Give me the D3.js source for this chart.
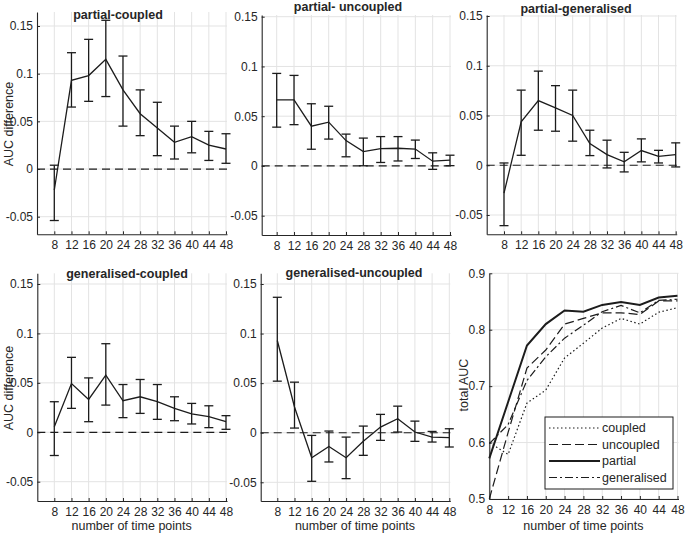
<!DOCTYPE html>
<html><head><meta charset="utf-8">
<script src="https://cdn.jsdelivr.net/npm/d3@7"></script>
<style>
body{margin:0;background:#fff;}
svg{display:block;font-family:Arial,"Liberation Sans",Helvetica,sans-serif;}
</style></head><body>
<svg id="chart" width="685" height="536"></svg>
<script>
// ---------- data ----------
const timePoints = [8, 12, 16, 20, 24, 28, 32, 36, 40, 44, 48];
const xTickValues = [8, 12, 16, 20, 24, 28, 32, 36, 40, 44, 48];
const diffYTicks = [-0.05, 0, 0.05, 0.1, 0.15];
const aucYTicks = [0.5, 0.6, 0.7, 0.8, 0.9];

const panelTitles = ["partial-coupled", "partial- uncoupled", "partial-generalised",
                     "generalised-coupled", "generalised-uncoupled"];

const partialCoupledMean = [-0.022, 0.093, 0.098, 0.115, 0.083, 0.058, 0.043, 0.028, 0.034, 0.025, 0.021];
const partialCoupledLow  = [-0.054, 0.065, 0.071, 0.076, 0.045, 0.035, 0.014, 0.0105, 0.017, 0.009, 0.006];
const partialCoupledHigh = [0.004, 0.122, 0.136, 0.156, 0.1185, 0.083, 0.070, 0.045, 0.050, 0.0395, 0.037];

const partialUncoupledMean = [0.0665, 0.0665, 0.040, 0.044, 0.0255, 0.0145, 0.0175, 0.0178, 0.017, 0.0048, 0.0058];
const partialUncoupledLow  = [0.039, 0.0415, 0.0168, 0.027, 0.0092, 0.0002, 0.0035, 0.005, 0.0075, -0.0034, 0.0003];
const partialUncoupledHigh = [0.093, 0.091, 0.0625, 0.060, 0.032, 0.028, 0.0295, 0.0295, 0.026, 0.0132, 0.0108];

const partialGeneralisedMean = [-0.028, 0.0436, 0.065, 0.0577, 0.050, 0.0218, 0.0107, 0.0034, 0.0148, 0.009, 0.0107];
const partialGeneralisedLow  = [-0.0607, 0.010, 0.0352, 0.0342, 0.0242, 0.0097, -0.0027, -0.0067, 0.0034, 0.0023, -0.0017];
const partialGeneralisedHigh = [0.0023, 0.0755, 0.0946, 0.080, 0.0755, 0.0352, 0.0252, 0.013, 0.0265, 0.015, 0.0225];

const generalisedCoupledMean = [0.0057, 0.0493, 0.0332, 0.0577, 0.0319, 0.0359, 0.0309, 0.0242, 0.0185, 0.0158, 0.0107];
const generalisedCoupledLow  = [-0.0235, 0.0242, 0.0107, 0.0275, 0.0148, 0.0191, 0.0131, 0.0117, 0.0084, 0.0047, 0.003];
const generalisedCoupledHigh = [0.0309, 0.0758, 0.055, 0.0896, 0.0483, 0.0534, 0.0483, 0.0359, 0.0292, 0.0268, 0.0168];

const generalisedUncoupledMean = [0.093, 0.026, -0.0252, -0.0138, -0.0252, -0.0087, 0.0057, 0.0141, 0.0007, -0.0044, -0.005];
const generalisedUncoupledLow  = [0.052, 0.0047, -0.049, -0.0295, -0.0463, -0.0228, -0.0077, 0.0007, -0.0087, -0.0094, -0.0144];
const generalisedUncoupledHigh = [0.1366, 0.051, -0.0027, 0.0017, -0.0044, 0.0067, 0.0185, 0.0268, 0.0117, 0.0013, 0.004];

const aucCoupled     = [0.600, 0.579, 0.670, 0.693, 0.750, 0.776, 0.803, 0.820, 0.810, 0.831, 0.839];
const aucUncoupled   = [0.500, 0.618, 0.732, 0.764, 0.810, 0.820, 0.830, 0.830, 0.827, 0.851, 0.851];
const aucPartial     = [0.572, 0.672, 0.772, 0.810, 0.834, 0.832, 0.844, 0.849, 0.844, 0.857, 0.860];
const aucGeneralised = [0.598, 0.632, 0.710, 0.752, 0.785, 0.808, 0.832, 0.843, 0.830, 0.852, 0.854];
const aucSeriesNames = ["coupled", "uncoupled", "partial", "generalised"];

// ---------- layout ----------
const layout = [
  {left: 37,    x8: 54.3,  x48: 226,   yLoV: -0.05, yLo: 216.7, yHiV: 0.15, yHi: 26,    top: 12,    bottom: 234.3, title: [118, 18.5], ylab: [12.5, 124]},
  {left: 261.7, x8: 276.7, x48: 450,   yLoV: -0.05, yLo: 215.7, yHiV: 0.15, yHi: 16.7,  top: 15,    bottom: 235,   title: [348, 11]},
  {left: 486.7, x8: 504,   x48: 675.7, yLoV: -0.05, yLo: 215,   yHiV: 0.15, yHi: 16,    top: 15,    bottom: 234.3, title: [576, 12.5]},
  {left: 37.3,  x8: 54.3,  x48: 226,   yLoV: -0.05, yLo: 481.7, yHiV: 0.15, yHi: 284,   top: 273.3, bottom: 501,   title: [127, 278], ylab: [12.5, 388], xlab: true},
  {left: 260.7, x8: 277.3, x48: 449.3, yLoV: -0.05, yLo: 482.3, yHiV: 0.15, yHi: 284,   top: 273.3, bottom: 501,   title: [354, 277], xlab: true},
  {left: 489.3, x8: 489.3, x48: 677.5, yLoV: 0.5,   yLo: 499,   yHiV: 0.9,  yHi: 273.3, top: 273.3, bottom: 499,   ylab: [468, 385], xlab: true}
];

const svg = d3.select("#chart");
const AX = "#262626", GRID = "#e3e3e3", INK = "#1c1c1c";
const fmt = d => String(+d.toFixed(2));

function makeScales(L) {
  const x0 = d3.scaleLinear().domain([8, 48]).range([L.x8, L.x48]);
  const x = d3.scaleLinear().domain([x0.invert(L.left), x0.invert(L.x48 + 1)]).range([L.left, L.x48 + 1]);
  const y0 = d3.scaleLinear().domain([L.yLoV, L.yHiV]).range([L.yLo, L.yHi]);
  const y = d3.scaleLinear().domain([y0.invert(L.bottom), y0.invert(L.top)]).range([L.bottom, L.top]);
  return {x, y};
}

function drawFrame(L, s, yTicks, yLabel) {
  const g = svg.append("g");
  g.selectAll(".gx").data(xTickValues).join("line")
    .attr("x1", d => s.x(d)).attr("x2", d => s.x(d))
    .attr("y1", L.top).attr("y2", L.bottom)
    .attr("stroke", GRID).attr("stroke-width", 1);
  g.selectAll(".gy").data(yTicks).join("line")
    .attr("x1", L.left).attr("x2", s.x.range()[1])
    .attr("y1", d => s.y(d)).attr("y2", d => s.y(d))
    .attr("stroke", GRID).attr("stroke-width", 1);
  const xa = svg.append("g").attr("transform", `translate(0,${L.bottom})`)
    .call(d3.axisBottom(s.x).tickValues(xTickValues).tickFormat(d3.format("d"))
      .tickSizeInner(-3).tickSizeOuter(0).tickPadding(6.5));
  const ya = svg.append("g").attr("transform", `translate(${L.left},0)`)
    .call(d3.axisLeft(s.y).tickValues(yTicks).tickFormat(fmt)
      .tickSizeInner(-3).tickSizeOuter(0).tickPadding(4));
  [xa, ya].forEach(a => {
    a.select(".domain").attr("stroke", AX).attr("stroke-width", 1.1);
    a.selectAll(".tick line").attr("stroke", AX);
    a.selectAll(".tick text").attr("fill", AX).attr("font-size", 12).attr("font-family", "Arial, 'Liberation Sans', sans-serif");
  });
  if (L.xlab) {
    svg.append("text").attr("x", (L.left + L.x48) / 2).attr("y", 530)
      .attr("text-anchor", "middle").attr("font-size", 12.5).attr("fill", AX)
      .text("number of time points");
  }
  if (L.ylab) {
    svg.append("text").attr("transform", `translate(${L.ylab[0]},${L.ylab[1]}) rotate(-90)`)
      .attr("text-anchor", "middle").attr("font-size", 12.5).attr("fill", AX)
      .text(yLabel);
  }
}

const diffPanels = [
  [partialCoupledMean, partialCoupledLow, partialCoupledHigh],
  [partialUncoupledMean, partialUncoupledLow, partialUncoupledHigh],
  [partialGeneralisedMean, partialGeneralisedLow, partialGeneralisedHigh],
  [generalisedCoupledMean, generalisedCoupledLow, generalisedCoupledHigh],
  [generalisedUncoupledMean, generalisedUncoupledLow, generalisedUncoupledHigh]
];

diffPanels.forEach(([mean, lo, hi], i) => {
  const L = layout[i];
  const s = makeScales(L);
  drawFrame(L, s, diffYTicks, "AUC difference");
  const g = svg.append("g");
  g.append("line").attr("x1", L.left).attr("x2", s.x.range()[1])
    .attr("y1", s.y(0)).attr("y2", s.y(0))
    .attr("stroke", INK).attr("stroke-width", 1.2).attr("stroke-dasharray", "8,5");
  const rows = timePoints.map((t, k) => ({t, m: mean[k], lo: lo[k], hi: hi[k]}));
  const eb = g.selectAll(".eb").data(rows).join("g");
  eb.append("line").attr("x1", d => s.x(d.t)).attr("x2", d => s.x(d.t))
    .attr("y1", d => s.y(d.lo)).attr("y2", d => s.y(d.hi))
    .attr("stroke", INK).attr("stroke-width", 1.3);
  ["lo", "hi"].forEach(k => {
    eb.append("line").attr("x1", d => s.x(d.t) - 4.5).attr("x2", d => s.x(d.t) + 4.5)
      .attr("y1", d => s.y(d[k])).attr("y2", d => s.y(d[k]))
      .attr("stroke", INK).attr("stroke-width", 1.3);
  });
  g.append("path").datum(rows)
    .attr("d", d3.line().x(d => s.x(d.t)).y(d => s.y(d.m)))
    .attr("fill", "none").attr("stroke", INK).attr("stroke-width", 1.3);
  svg.append("text").attr("x", L.title[0]).attr("y", L.title[1])
    .attr("text-anchor", "middle").attr("font-size", 12.5).attr("font-weight", "bold")
    .attr("fill", AX).text(panelTitles[i]);
});

// ---------- total AUC panel ----------
{
  const L = layout[5];
  const s = makeScales(L);
  drawFrame(L, s, aucYTicks, "total AUC");
  const styles = [
    {dash: "1.5,2.5", w: 1.2},
    {dash: "9,4", w: 1.2},
    {dash: null, w: 2},
    {dash: "8,3,2,3", w: 1.2}
  ];
  const series = [aucCoupled, aucUncoupled, aucPartial, aucGeneralised];
  const line = d3.line().x((d, k) => s.x(timePoints[k])).y(d => s.y(d));
  series.forEach((vals, i) => {
    svg.append("path").datum(vals).attr("d", line)
      .attr("fill", "none").attr("stroke", INK).attr("stroke-width", styles[i].w)
      .attr("stroke-dasharray", styles[i].dash);
  });
  const lg = svg.append("g");
  lg.append("rect").attr("x", 545).attr("y", 417).attr("width", 128).attr("height", 72)
    .attr("fill", "#fff").attr("stroke", INK).attr("stroke-width", 1);
  const ly = [428, 444.5, 461, 477.5];
  aucSeriesNames.forEach((name, i) => {
    lg.append("line").attr("x1", 549).attr("x2", 600).attr("y1", ly[i]).attr("y2", ly[i])
      .attr("stroke", INK).attr("stroke-width", styles[i].w).attr("stroke-dasharray", styles[i].dash);
    lg.append("text").attr("x", 602).attr("y", ly[i]).attr("dy", "0.35em")
      .attr("font-size", 12.5).attr("fill", AX).text(name);
  });
}
</script>
</body></html>
